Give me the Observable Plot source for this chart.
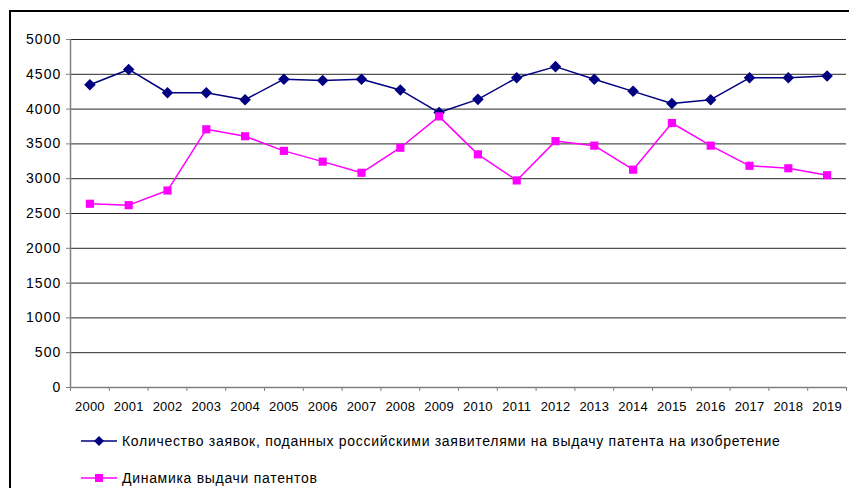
<!DOCTYPE html>
<html>
<head>
<meta charset="utf-8">
<script src="https://cdn.jsdelivr.net/npm/d3@7"></script>
<script src="https://cdn.jsdelivr.net/npm/@observablehq/plot@0.6"></script>
<style>
  html, body { margin: 0; padding: 0; background: #fff; }
  #wrap { position: relative; width: 849px; height: 488px; overflow: hidden; font-family: "Liberation Sans", Arial, sans-serif; }
  #frame { position: absolute; left: 9px; top: 10px; width: 900px; height: 600px; border-top: 2px solid #000; border-left: 2px solid #000; }
  #chart { position: absolute; left: 0; top: 0; }
  .leg { position: absolute; left: 80px; display: flex; align-items: center; font-size: 14px; letter-spacing: 0.7px; color: #000; white-space: nowrap; }
  .leg svg { margin-right: 4px; }
  .yax text { letter-spacing: 1.1px; }
  .xax text { letter-spacing: 0.2px; }
</style>
</head>
<body>
<div id="wrap">
  <div id="frame"></div>
  <div id="chart"></div>
  <div id="legend"></div>
</div>
<script>
const years = [2000,2001,2002,2003,2004,2005,2006,2007,2008,2009,2010,2011,2012,2013,2014,2015,2016,2017,2018,2019];
const applications = [4350,4570,4235,4235,4135,4430,4410,4430,4275,3950,4140,4450,4610,4430,4255,4080,4135,4450,4450,4475];
const patents = [2640,2620,2830,3710,3610,3400,3245,3085,3445,3895,3350,2975,3540,3475,3130,3800,3475,3185,3150,3050];
const seriesNames = [
  "Количество заявок, поданных российскими заявителями на выдачу патента на изобретение",
  "Динамика выдачи патентов"
];
const colors = ["#000080", "#FF00FF"];
const yTicks = [0,500,1000,1500,2000,2500,3000,3500,4000,4500,5000];

const data = [];
years.forEach((y, i) => {
  data.push({year: y, value: applications[i], series: seriesNames[0]});
  data.push({year: y, value: patents[i], series: seriesNames[1]});
});
const boundaries = years.map(y => y - 0.5).concat([years[years.length - 1] + 0.5]);

const chart = Plot.plot({
  width: 849,
  height: 420,
  marginTop: 39,
  marginLeft: 70,
  marginRight: 3,
  marginBottom: 33,
  style: {fontFamily: "'Liberation Sans', Arial, sans-serif", fontSize: "13px", color: "#000", background: "transparent"},
  x: {type: "linear", domain: [years[0] - 0.5, years[years.length - 1] + 0.5]},
  y: {domain: [0, 5000]},
  color: {domain: seriesNames, range: colors},
  marks: [
    Plot.ruleY(yTicks.filter(v => v > 0), {stroke: "#000", strokeWidth: 1, strokeOpacity: 0.85}),
    Plot.axisY({ticks: yTicks, tickSize: 4, tickPadding: 5, label: null, stroke: "#808080", fontSize: 14, className: "yax", tickFormat: d => String(d)}),
    Plot.ruleX([years[0] - 0.5], {stroke: "#808080", strokeWidth: 1.5}),
    Plot.ruleY([0], {stroke: "#808080", strokeWidth: 1.5}),
    Plot.axisX({ticks: boundaries, tickSize: 4, tickFormat: () => "", label: null, stroke: "#808080"}),
    Plot.axisX({ticks: years, tickSize: 0, tickPadding: 14, label: null, tickFormat: d => String(d), fontSize: 13, className: "xax"}),
    Plot.line(data, {x: "year", y: "value", stroke: "series", z: "series", strokeWidth: 1.5}),
    Plot.dot(data.filter(d => d.series === seriesNames[0]), {x: "year", y: "value", symbol: "diamond2", r: 5.2, fill: colors[0], stroke: null}),
    Plot.dot(data.filter(d => d.series === seriesNames[1]), {x: "year", y: "value", symbol: "square", r: 4.6, fill: colors[1], stroke: null})
  ]
});
document.getElementById("chart").appendChild(chart);

// legend
const legend = document.getElementById("legend");
const tops = [432, 469];
seriesNames.forEach((name, i) => {
  const div = document.createElement("div");
  div.className = "leg";
  div.style.top = tops[i] + "px";
  const marker = i === 0
    ? `<path d="M19,4 L24,9 L19,14 L14,9 Z" fill="${colors[0]}"/>`
    : `<rect x="15" y="5" width="8" height="8" fill="${colors[1]}"/>`;
  div.innerHTML = `<svg width="38" height="18"><line x1="1" x2="37" y1="9" y2="9" stroke="${colors[i]}" stroke-width="1.5"/>${marker}</svg><span>${name}</span>`;
  legend.appendChild(div);
});
</script>
</body>
</html>
